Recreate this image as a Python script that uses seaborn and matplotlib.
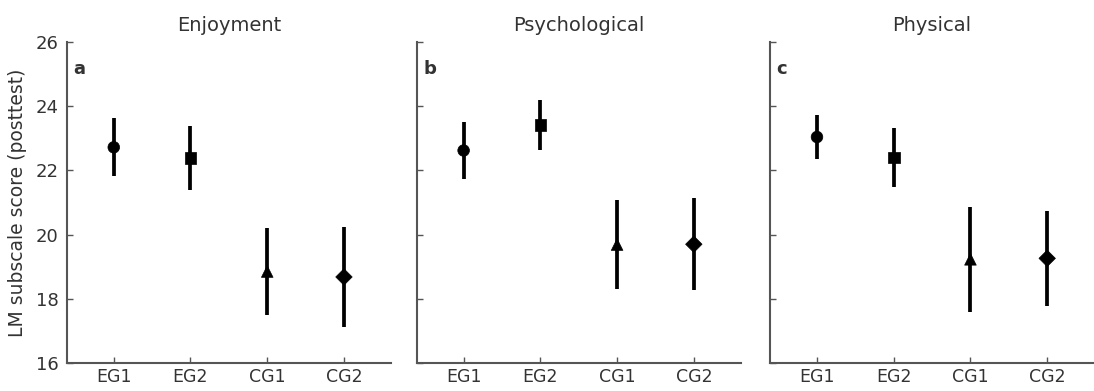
import numpy as np
import pandas as pd
import seaborn as sns
import matplotlib
matplotlib.use("Agg")
import matplotlib.pyplot as plt

groups = ["EG1", "EG2", "CG1", "CG2"]
markers = ["o", "s", "^", "D"]
panel_titles = ["Enjoyment", "Psychological", "Physical"]
panel_letters = ["a", "b", "c"]

enjoyment_mean = [22.72, 22.39, 18.85, 18.68]
enjoyment_err = [0.90, 1.00, 1.35, 1.57]
psychological_mean = [22.62, 23.42, 19.69, 19.70]
psychological_err = [0.88, 0.78, 1.39, 1.43]
physical_mean = [23.04, 22.40, 19.23, 19.26]
physical_err = [0.69, 0.93, 1.63, 1.48]

yticks = [16, 18, 20, 22, 24, 26]
ylabel = "LM subscale score (posttest)"

means = [enjoyment_mean, psychological_mean, physical_mean]
errs = [enjoyment_err, psychological_err, physical_err]

sns.set_style("ticks")
plt.rcParams['font.family'] = ['DejaVu Sans']

fig = plt.figure(figsize=(10.94, 3.91), dpi=100)
lefts = [0.0612, 0.381, 0.704]
width = 0.296
bottom, height = 0.0716, 0.821
gray = "#555555"
txt = "#333333"

for i in range(3):
    ax = fig.add_axes([lefts[i], bottom, width, height])
    df = pd.DataFrame({"group": groups, "mean": means[i], "err": errs[i],
                       "x": np.arange(len(groups))})
    ax.errorbar(df["x"], df["mean"], yerr=df["err"], fmt="none",
                ecolor="black", elinewidth=2.7, capsize=0, zorder=2)
    sns.scatterplot(data=df, x="x", y="mean", style="group", markers=dict(zip(groups, markers)),
                    color="black", s=70, edgecolor="black", linewidth=0.5,
                    legend=False, ax=ax, zorder=3)
    ax.set_xlim(-0.61, 3.61)
    ax.set_ylim(16, 26)
    ax.set_xticks(range(len(groups)))
    ax.set_xticklabels(groups)
    ax.set_yticks(yticks)
    if i == 0:
        ax.set_yticklabels([str(t) for t in yticks])
        ax.set_ylabel(ylabel, fontsize=13.5, color=txt, labelpad=6)
    else:
        ax.set_yticklabels([])
        ax.set_ylabel("")
    ax.set_xlabel("")
    ax.set_title(panel_titles[i], fontsize=14, color=txt, pad=8)
    ax.text(0.02, 0.945, panel_letters[i], transform=ax.transAxes, fontsize=13,
            fontweight="bold", color=txt, va="top", ha="left")
    for s in ["top", "right"]:
        ax.spines[s].set_visible(False)
    for s in ["left", "bottom"]:
        ax.spines[s].set_color(gray)
        ax.spines[s].set_linewidth(1.5)
    ax.tick_params(axis="both", direction="in", length=4, width=1, color=gray,
                   labelcolor=txt)
    ax.tick_params(axis="x", labelsize=12.5)
    ax.tick_params(axis="y", labelsize=13, pad=6)

fig.savefig("out.png", dpi=100)
